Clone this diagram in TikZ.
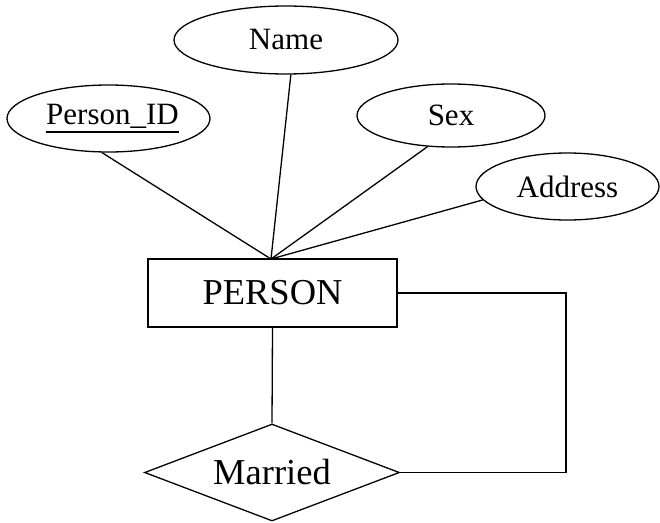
\documentclass[tikz,border=0pt]{standalone}
\usepackage{fontspec}
\setmainfont{Liberation Serif}
\usetikzlibrary{shapes.geometric}
% key attribute: text with a firm rule beneath it
\newcommand\keyattr[1]{\setbox0\hbox{#1}\rlap{\rule[-8pt]{\wd0}{1.5pt}}\box0}
\tikzset{
  er/.style={line width=1.3pt, draw=black},
  attr/.style={er, ellipse, inner sep=0pt, font=\fontsize{31}{31}\selectfont},
  entity/.style={er, rectangle, inner sep=0pt, minimum width=249pt, minimum height=68pt,
                 font=\fontsize{36.5}{36.5}\selectfont},
  relation/.style={er, diamond, aspect=2.6, inner sep=0pt, minimum width=255pt,
                   minimum height=97pt, font=\fontsize{36.5}{36.5}\selectfont},
  link/.style={line width=1.3pt}
}
\begin{document}
\begin{tikzpicture}[x=1pt, y=-1pt]
  \useasboundingbox (0,0) rectangle (660,522);

  % attributes
  \node[attr, minimum width=203pt, minimum height=67pt] (pid)  at (108.5,118.5) {\hspace*{8pt}\keyattr{Person\_ID}};
  \node[attr, minimum width=224pt, minimum height=68pt] (name) at (286,40) {Name};
  \node[attr, minimum width=188pt, minimum height=63pt] (sex)  at (451,115.5) {Sex};
  \node[attr, minimum width=183pt, minimum height=67pt] (addr) at (567.5,186.5) {Address};

  % entity and relationship
  \node[entity] (person) at (272.5,293) {PERSON};
  \node[relation] (married) at (272,472.5) {Married};

  % attribute links meet at one point on top of the entity
  \coordinate (hub) at (271,259);
  \coordinate (bend) at (566,380);
  \draw[link] (pid.259)  -- (hub);
  \draw[link] (name.278) -- (hub);
  \draw[link] (sex.233)  -- (hub);
  \draw[link] (addr.189) -- (hub);

  % recursive relationship
  \draw[link] (person.south) -- (married.north);
  \draw[link] (person.east) -| (bend) |- (married.east);
\end{tikzpicture}
\end{document}
